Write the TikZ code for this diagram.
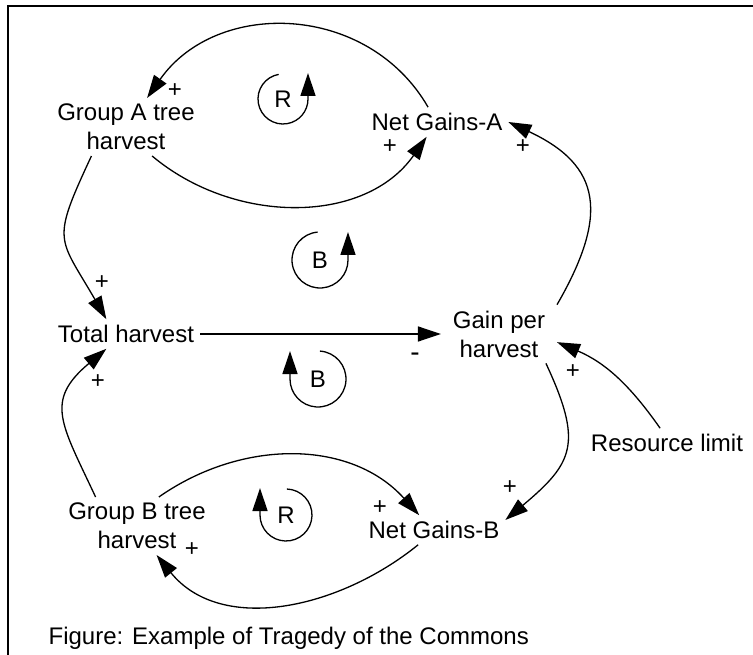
\documentclass[tikz,border=0pt]{standalone}
\usepackage{fontspec}
\setmainfont{Liberation Sans}
\usetikzlibrary{arrows.meta}

\begin{document}
\begin{tikzpicture}[x=1pt, y=-1pt, >={Triangle[length=23pt,width=15pt]}, line width=1.3pt,
  every node/.style={font=\fontsize{24}{29}\selectfont, align=center, inner sep=2pt},
  var/.style={outer sep=4pt},
  sign/.style={font=\fontsize{24}{24}\selectfont, inner sep=0pt}]

\useasboundingbox (0,0) rectangle (753,655);
\draw[line width=1.6pt] (8,655) -- (8,6) -- (753,6);

% define the variables
  \node[var] (gA)   at (126,127) {Group A tree\\harvest};
  \node[var] (nA)   at (437,122) {Net Gains-A};
  \node[var] (tot)  at (126,334) {Total harvest};
  \node[var, inner xsep=8pt] (gain) at (499,334) {Gain per\\harvest};
  \node[var] (res)  at (667,443) {Resource limit};
  \node[var] (gB)   at (137,526) {Group B tree\\harvest};
  \node[var] (nB)   at (434,530) {Net Gains-B};
  \node[anchor=west] (fig) at (46,638) {Figure: Example of Tragedy of the Commons};

% loop markers
  \node (lR1) at (283,99)  {R};
  \node (lB1) at (320,260) {B};
  \node (lB2) at (318,379) {B};
  \node (lR2) at (286,515) {R};
  \draw[->] ([shift={(100:25pt)}]lR1.center) arc[start angle=100, end angle=360, radius=25pt] -- ++(0,-26);
  \draw[->] ([shift={(95:28pt)}]lB1.center) arc[start angle=95, end angle=360, radius=28pt] -- ++(0,-28);
  \draw[->] ([shift={(86:28pt)}]lB2.center) arc[start angle=86, end angle=-180, radius=28pt] -- ++(0,-28);
  \draw[->] ([shift={(88:26pt)}]lR2.center) arc[start angle=88, end angle=-180, radius=26pt] -- ++(0,-27);

% define the links
  \path[->] (nA.121)  edge [out=120, in=55, looseness=1.1]  (gA.54)
            (gA.-48)  edge [out=-40, in=-125]               (nA.-125)
            (gA.-140) edge [out=245, in=120, looseness=1.5] (tot.143)
            (tot.east) edge                                 (gain.west)
            (gain.north east) edge [out=60, in=-25, looseness=1.4] (nA.east)
            (res.115) edge [out=125, in=-23]                (gain.-8)
            (gain.-32) edge [out=-65, in=40, looseness=1.4] (nB.8)
            (gB.145)  edge [out=115, in=220, looseness=1.4] (tot.-143)
            (gB.53)   edge [out=35, in=132]                 (nB.135)
            (nB.-137) edge [out=-141, in=-51]               (gB.-56);

% polarities
  \node[sign] (s1)  at (175,91)  {+};
  \node[sign] (s2)  at (390,147) {+};
  \node[sign] (s3)  at (523,147) {+};
  \node[sign] (s4)  at (102,283) {+};
  \node[sign] (s5)  at (98,382)  {+};
  \node[sign, font=\fontsize{28}{28}\selectfont] (s6) at (415,357) {-};
  \node[sign] (s7)  at (573,372) {+};
  \node[sign] (s8)  at (510,488) {+};
  \node[sign] (s9)  at (380,508) {+};
  \node[sign] (s10) at (192,550) {+};

\end{tikzpicture}
\end{document}
